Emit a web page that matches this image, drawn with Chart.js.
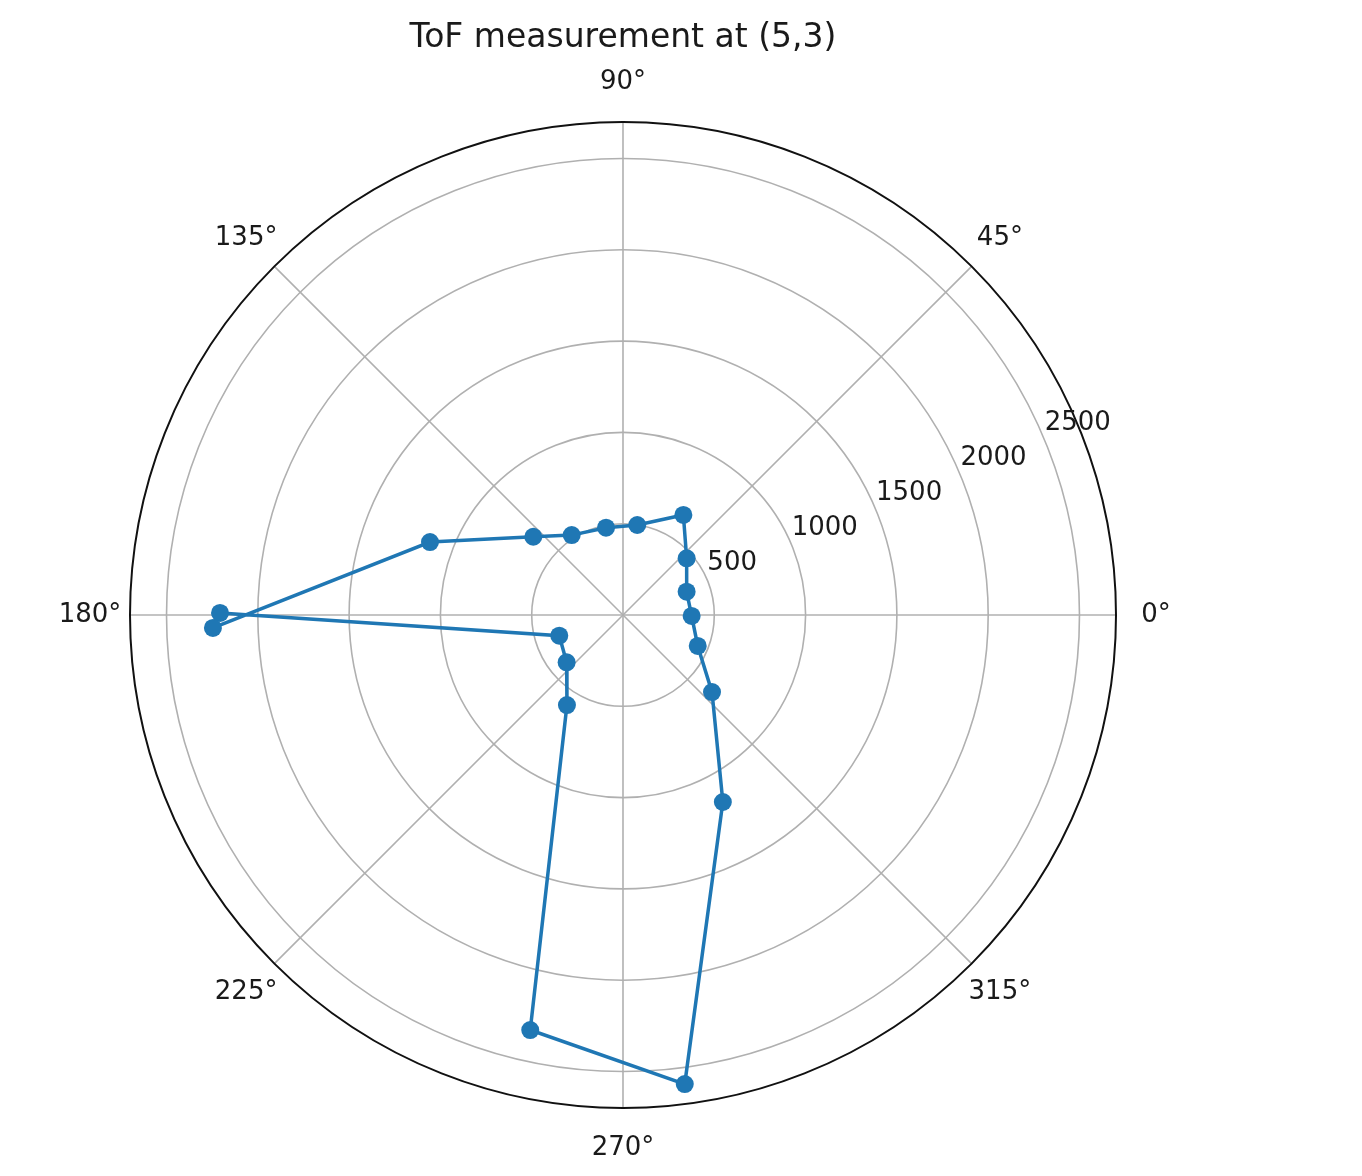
<!DOCTYPE html>
<html>
<head>
<meta charset="utf-8">
<script src="https://cdn.jsdelivr.net/npm/chart.js@4/dist/chart.umd.min.js"></script>
<style>
  html, body { margin: 0; padding: 0; background: #fff; }
  #wrap { width: 1362px; height: 1176px; position: relative; }
</style>
</head>
<body>
<div id="wrap"><canvas id="tofPolar"></canvas></div>
<script>
// measurement angles (degrees) and ToF distances, in sweep order
const angleDeg = [179.7, 198.0, 220.0, 238.1, 257.4, 277.5, 298.1, 319.1, 337.5, 359.2,
                  20.1, 41.7, 58.9, 81.0, 101.0, 122.7, 138.9, 159.3, 181.8];
const tofDist  = [2207, 367, 403, 581, 2329, 2591, 1161, 645, 443, 376,
                  371, 467, 640, 499, 487, 520, 652, 1130, 2247];

const radialTicks = [500, 1000, 1500, 2000, 2500];
const angleTicks = [0, 45, 90, 135, 180, 225, 270, 315];
const rMax = 2700;

const points = angleDeg.map((a, i) => {
    const t = a * Math.PI / 180;
    return { x: tofDist[i] * Math.cos(t), y: tofDist[i] * Math.sin(t) };
});

const polarFrame = {
    id: 'polarFrame',
    beforeDatasetsDraw(chart) {
        const ctx = chart.ctx;
        const xs = chart.scales.x, ys = chart.scales.y;
        const cx = xs.getPixelForValue(0), cy = ys.getPixelForValue(0);
        const pr = v => xs.getPixelForValue(v) - cx;
        ctx.save();
        ctx.strokeStyle = '#b0b0b0';
        ctx.lineWidth = 1.6;
        radialTicks.forEach(v => {
            ctx.beginPath();
            ctx.arc(cx, cy, pr(v), 0, Math.PI * 2);
            ctx.stroke();
        });
        angleTicks.forEach(a => {
            const t = a * Math.PI / 180;
            ctx.beginPath();
            ctx.moveTo(cx, cy);
            ctx.lineTo(cx + pr(rMax) * Math.cos(t), cy - pr(rMax) * Math.sin(t));
            ctx.stroke();
        });
        ctx.strokeStyle = '#111';
        ctx.lineWidth = 2;
        ctx.beginPath();
        ctx.arc(cx, cy, pr(rMax), 0, Math.PI * 2);
        ctx.stroke();
        ctx.restore();
    },
    afterDraw(chart) {
        const ctx = chart.ctx;
        const xs = chart.scales.x, ys = chart.scales.y;
        const cx = xs.getPixelForValue(0), cy = ys.getPixelForValue(0);
        const pr = v => xs.getPixelForValue(v) - cx;
        ctx.save();
        ctx.fillStyle = '#1a1a1a';
        ctx.font = '26px "DejaVu Sans"';
        ctx.textAlign = 'center';
        ctx.textBaseline = 'middle';
        angleTicks.forEach(a => {
            const t = a * Math.PI / 180;
            const rr = pr(rMax) + 40;
            ctx.fillText(a + '°', cx + rr * Math.cos(t), cy - rr * Math.sin(t));
        });
        ctx.textAlign = 'left';
        const lt = 22.5 * Math.PI / 180;
        radialTicks.forEach(v => {
            ctx.fillText(String(v), cx + pr(v) * Math.cos(lt), cy - pr(v) * Math.sin(lt) - 17);
        });
        ctx.font = '33px "DejaVu Sans"';
        ctx.textAlign = 'center';
        ctx.fillText('ToF measurement at (5,3)', cx, 38);
        ctx.restore();
    }
};

new Chart(document.getElementById('tofPolar'), {
    type: 'scatter',
    data: {
        datasets: [{
            data: points,
            showLine: true,
            borderColor: '#1f77b4',
            backgroundColor: '#1f77b4',
            borderWidth: 3.5,
            pointRadius: 9,
            pointHoverRadius: 9,
            pointBorderWidth: 0,
            clip: false
        }]
    },
    options: {
        responsive: true,
        maintainAspectRatio: false,
        animation: false,
        layout: { padding: { left: 130, right: 246, top: 122, bottom: 68 } },
        scales: {
            x: { type: 'linear', min: -rMax, max: rMax, display: false },
            y: { type: 'linear', min: -rMax, max: rMax, display: false }
        },
        plugins: {
            legend: { display: false },
            tooltip: { enabled: false },
            title: { display: false }
        }
    },
    plugins: [polarFrame]
});
</script>
</body>
</html>
